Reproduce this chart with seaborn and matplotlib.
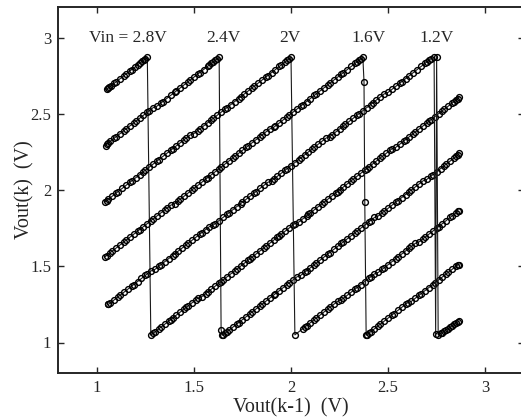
import pandas as pd
import matplotlib
matplotlib.use("Agg")
import matplotlib.pyplot as plt
import seaborn as sns

# return map samples, Vout(k-1) vs Vout(k), one pair of lists per input voltage
x_28 = [1.05, 1.06, 1.065, 1.075, 1.09, 1.10, 1.12, 1.14, 1.15, 1.17, 1.18, 1.195, 1.21, 1.22, 1.235, 1.245, 1.25, 1.26,
        1.278, 1.29, 1.30, 1.32, 1.33, 1.35, 1.37, 1.38, 1.39, 1.41, 1.43, 1.45, 1.46, 1.47, 1.49, 1.51, 1.52,
        1.54, 1.56, 1.57, 1.59, 1.61, 1.63, 1.64, 1.65, 1.67, 1.69, 1.71, 1.72, 1.74, 1.76, 1.78, 1.79, 1.80, 1.82,
        1.84, 1.86, 1.87, 1.89, 1.91, 1.93, 1.94, 1.95, 1.97, 1.99, 2.01, 2.02,
        2.04, 2.06, 2.08, 2.09, 2.10, 2.12, 2.14, 2.16, 2.17, 2.19, 2.21, 2.23, 2.24, 2.25, 2.27, 2.29, 2.31, 2.32,
        2.34, 2.36, 2.38, 2.39, 2.40, 2.42, 2.44, 2.46, 2.47, 2.49, 2.51, 2.52,
        2.54, 2.56, 2.58, 2.59, 2.61, 2.63, 2.64, 2.66, 2.68, 2.70, 2.71, 2.72, 2.74, 2.76, 2.78, 2.79, 2.81, 2.83,
        2.84, 2.85, 2.86, 2.866]
y_28 = [2.66, 2.67, 2.675, 2.685, 2.70, 2.71, 2.73, 2.75, 2.76, 2.78, 2.79, 2.805, 2.82, 2.83, 2.845, 2.855, 2.86, 2.87,
        1.05, 1.06, 1.07, 1.09, 1.10, 1.12, 1.14, 1.15, 1.16, 1.18, 1.20, 1.22, 1.23, 1.24, 1.26, 1.28, 1.29,
        1.30, 1.32, 1.33, 1.35, 1.37, 1.39, 1.40, 1.41, 1.43, 1.45, 1.47, 1.48, 1.50, 1.52, 1.54, 1.55, 1.56, 1.58,
        1.60, 1.62, 1.63, 1.65, 1.67, 1.69, 1.70, 1.71, 1.73, 1.75, 1.77, 1.78,
        1.79, 1.81, 1.83, 1.84, 1.85, 1.87, 1.89, 1.91, 1.92, 1.94, 1.96, 1.98, 1.99, 2.00, 2.02, 2.04, 2.06, 2.07,
        2.09, 2.11, 2.13, 2.14, 2.15, 2.17, 2.19, 2.21, 2.22, 2.24, 2.26, 2.27,
        2.28, 2.30, 2.32, 2.33, 2.35, 2.37, 2.38, 2.40, 2.42, 2.44, 2.45, 2.46, 2.48, 2.50, 2.52, 2.53, 2.55, 2.57,
        2.58, 2.59, 2.60, 2.61]

x_24 = [1.045, 1.05, 1.06, 1.07, 1.09, 1.10, 1.12, 1.14, 1.15, 1.17, 1.19, 1.20, 1.22, 1.24, 1.26, 1.27, 1.29,
        1.31, 1.33, 1.34, 1.36, 1.38, 1.40, 1.41, 1.43, 1.45, 1.47, 1.48, 1.50, 1.52, 1.53, 1.55, 1.57, 1.58, 1.59,
        1.60, 1.61, 1.62, 1.63,
        1.64,
        1.645, 1.65, 1.66, 1.67, 1.68, 1.70, 1.72, 1.73, 1.75, 1.77, 1.79, 1.80, 1.82, 1.84, 1.85, 1.87, 1.89, 1.91,
        1.92, 1.94, 1.96, 1.98, 1.99, 2.01, 2.03,
        2.05, 2.07, 2.08, 2.10, 2.12, 2.13, 2.15, 2.17, 2.19, 2.20, 2.22, 2.24, 2.26, 2.27, 2.29, 2.31, 2.33, 2.34,
        2.36, 2.38, 2.40, 2.41, 2.43,
        2.45, 2.47, 2.48, 2.50, 2.52, 2.54, 2.55, 2.57, 2.59, 2.61, 2.62, 2.64, 2.66, 2.68,
        2.70, 2.72, 2.73, 2.75, 2.77, 2.79, 2.80, 2.82, 2.84, 2.85, 2.86, 2.866]
y_24 = [2.29, 2.30, 2.31, 2.32, 2.34, 2.35, 2.37, 2.39, 2.40, 2.42, 2.44, 2.45, 2.47, 2.49, 2.51, 2.52, 2.54,
        2.55, 2.57, 2.58, 2.60, 2.62, 2.64, 2.65, 2.67, 2.69, 2.71, 2.72, 2.74, 2.76, 2.77, 2.79, 2.81, 2.82, 2.83,
        2.84, 2.85, 2.86, 2.87,
        1.085,
        1.05, 1.05, 1.06, 1.07, 1.08, 1.10, 1.12, 1.13, 1.15, 1.17, 1.19, 1.20, 1.22, 1.24, 1.25, 1.27, 1.29, 1.31,
        1.32, 1.34, 1.36, 1.38, 1.39, 1.41, 1.43,
        1.44, 1.46, 1.47, 1.49, 1.51, 1.52, 1.54, 1.56, 1.58, 1.59, 1.61, 1.63, 1.65, 1.66, 1.68, 1.70, 1.72, 1.73,
        1.75, 1.77, 1.79, 1.80, 1.82,
        1.83, 1.85, 1.86, 1.88, 1.90, 1.92, 1.93, 1.95, 1.97, 1.99, 2.00, 2.02, 2.04, 2.06,
        2.07, 2.09, 2.10, 2.12, 2.14, 2.16, 2.17, 2.19, 2.21, 2.22, 2.23, 2.24]

x_20 = [1.04, 1.05, 1.06, 1.08, 1.10, 1.11, 1.13, 1.15, 1.17, 1.18, 1.20, 1.22, 1.24, 1.25, 1.27, 1.29, 1.31, 1.32,
        1.34, 1.36, 1.38, 1.39, 1.41, 1.43, 1.45, 1.46, 1.48,
        1.50, 1.52, 1.53, 1.55, 1.57, 1.59, 1.60, 1.62, 1.64, 1.66, 1.67, 1.69, 1.71, 1.73, 1.74, 1.76, 1.78, 1.80,
        1.81, 1.83, 1.85, 1.87, 1.88, 1.90, 1.92, 1.94, 1.95, 1.97, 1.98, 1.99, 2.00,
        2.02, 2.06, 2.07, 2.08, 2.10, 2.12, 2.13, 2.15, 2.17, 2.19, 2.20, 2.22, 2.24,
        2.26, 2.27, 2.29, 2.31, 2.33, 2.34, 2.36, 2.38, 2.40, 2.41, 2.43,
        2.45, 2.47, 2.48, 2.50, 2.52, 2.54, 2.55, 2.57, 2.59, 2.61, 2.62, 2.64,
        2.66, 2.68, 2.69, 2.71, 2.73, 2.75, 2.76, 2.78, 2.80, 2.82, 2.83, 2.85, 2.86, 2.866]
y_20 = [1.92, 1.93, 1.94, 1.96, 1.98, 1.99, 2.01, 2.03, 2.05, 2.06, 2.08, 2.10, 2.12, 2.13, 2.15, 2.17, 2.19, 2.20,
        2.22, 2.24, 2.26, 2.27, 2.29, 2.31, 2.33, 2.34, 2.36,
        2.37, 2.39, 2.40, 2.42, 2.44, 2.46, 2.47, 2.49, 2.51, 2.53, 2.54, 2.56, 2.58, 2.60, 2.61, 2.63, 2.65, 2.67,
        2.68, 2.70, 2.72, 2.74, 2.75, 2.77, 2.79, 2.81, 2.82, 2.84, 2.85, 2.86, 2.87,
        1.05, 1.09, 1.10, 1.11, 1.13, 1.15, 1.16, 1.18, 1.20, 1.22, 1.23, 1.25, 1.27,
        1.28, 1.29, 1.31, 1.33, 1.35, 1.36, 1.38, 1.40, 1.42, 1.43, 1.45,
        1.46, 1.48, 1.49, 1.51, 1.53, 1.55, 1.56, 1.58, 1.60, 1.62, 1.63, 1.65,
        1.66, 1.68, 1.69, 1.71, 1.73, 1.75, 1.76, 1.78, 1.80, 1.82, 1.83, 1.85, 1.86, 1.86]

x_16 = [1.04, 1.05, 1.07, 1.08, 1.10, 1.12, 1.14, 1.15, 1.17, 1.19, 1.21, 1.22, 1.24, 1.26, 1.28, 1.29, 1.31, 1.33,
        1.35, 1.36, 1.38,
        1.40, 1.42, 1.43, 1.45, 1.47, 1.49, 1.50, 1.52, 1.54, 1.56, 1.57, 1.59, 1.61, 1.63, 1.64, 1.66, 1.68, 1.70,
        1.71, 1.73, 1.75, 1.77, 1.78, 1.80, 1.82, 1.84, 1.85, 1.87, 1.89,
        1.91, 1.92, 1.94, 1.96, 1.98, 1.99, 2.01, 2.03, 2.05, 2.06, 2.08, 2.10, 2.12, 2.13, 2.15, 2.17, 2.19, 2.20,
        2.22, 2.24, 2.26, 2.27, 2.29, 2.31, 2.33, 2.34, 2.35, 2.36, 2.37,
        2.376, 2.38,
        2.387, 2.39, 2.40, 2.41, 2.43, 2.45, 2.46, 2.48, 2.50, 2.52, 2.53, 2.55, 2.57, 2.59, 2.60,
        2.62, 2.64, 2.66, 2.67, 2.69, 2.71, 2.73, 2.74, 2.76, 2.78, 2.80, 2.81, 2.83, 2.85, 2.86, 2.866]
y_16 = [1.56, 1.57, 1.59, 1.60, 1.62, 1.64, 1.66, 1.67, 1.69, 1.71, 1.73, 1.74, 1.76, 1.78, 1.80, 1.81, 1.83, 1.85,
        1.87, 1.88, 1.90,
        1.91, 1.93, 1.94, 1.96, 1.98, 2.00, 2.01, 2.03, 2.05, 2.07, 2.08, 2.10, 2.12, 2.14, 2.15, 2.17, 2.19, 2.21,
        2.22, 2.24, 2.26, 2.28, 2.29, 2.31, 2.33, 2.35, 2.36, 2.38, 2.40,
        2.41, 2.42, 2.44, 2.46, 2.48, 2.49, 2.51, 2.53, 2.55, 2.56, 2.58, 2.60, 2.62, 2.63, 2.65, 2.67, 2.69, 2.70,
        2.72, 2.74, 2.76, 2.77, 2.79, 2.81, 2.83, 2.84, 2.85, 2.86, 2.87,
        2.71, 1.92,
        1.05, 1.05, 1.06, 1.07, 1.09, 1.11, 1.12, 1.14, 1.16, 1.18, 1.19, 1.21, 1.23, 1.25, 1.26,
        1.27, 1.29, 1.31, 1.32, 1.34, 1.36, 1.38, 1.39, 1.41, 1.43, 1.45, 1.46, 1.48, 1.50, 1.51, 1.51]

x_12 = [1.056, 1.06, 1.07, 1.09, 1.11, 1.12, 1.14, 1.16, 1.18, 1.19, 1.21, 1.23, 1.25, 1.26, 1.28,
        1.30, 1.32, 1.33, 1.35, 1.37, 1.39, 1.40, 1.42, 1.44, 1.46, 1.47, 1.49, 1.51, 1.53, 1.54, 1.56, 1.58,
        1.60, 1.61, 1.63, 1.65, 1.67, 1.68, 1.70, 1.72, 1.74, 1.75, 1.77, 1.79, 1.81, 1.82, 1.84, 1.86, 1.88,
        1.90, 1.91, 1.93, 1.95, 1.97, 1.98, 2.00, 2.02, 2.04, 2.05, 2.07, 2.09, 2.11, 2.12, 2.14, 2.16, 2.18,
        2.20, 2.21, 2.23, 2.25, 2.27, 2.28, 2.30, 2.32, 2.34, 2.35, 2.37, 2.39, 2.41, 2.42, 2.44, 2.46, 2.48,
        2.50, 2.52, 2.54, 2.56, 2.57, 2.59, 2.61, 2.63, 2.65, 2.67, 2.69, 2.70, 2.71, 2.72, 2.737,
        2.745, 2.75,
        2.758, 2.77, 2.78, 2.79, 2.80, 2.81, 2.82, 2.83, 2.84, 2.85, 2.86, 2.866]
y_12 = [1.25, 1.25, 1.26, 1.28, 1.30, 1.31, 1.33, 1.35, 1.37, 1.38, 1.40, 1.42, 1.44, 1.45, 1.47,
        1.48, 1.50, 1.51, 1.53, 1.55, 1.57, 1.58, 1.60, 1.62, 1.64, 1.65, 1.67, 1.69, 1.71, 1.72, 1.74, 1.76,
        1.77, 1.78, 1.80, 1.82, 1.84, 1.85, 1.87, 1.89, 1.91, 1.92, 1.94, 1.96, 1.98, 1.99, 2.01, 2.03, 2.05,
        2.06, 2.07, 2.09, 2.11, 2.13, 2.14, 2.16, 2.18, 2.20, 2.21, 2.23, 2.25, 2.27, 2.28, 2.30, 2.32, 2.34,
        2.35, 2.36, 2.38, 2.40, 2.42, 2.43, 2.45, 2.47, 2.49, 2.50, 2.52, 2.54, 2.56, 2.57, 2.59, 2.61, 2.63,
        2.64, 2.66, 2.68, 2.70, 2.71, 2.73, 2.75, 2.77, 2.79, 2.81, 2.83, 2.84, 2.85, 2.86, 2.87,
        1.055, 2.875,
        1.05, 1.06, 1.065, 1.075, 1.085, 1.09, 1.10, 1.11, 1.12, 1.13, 1.135, 1.14]

vin_names = ["2.8V", "2.4V", "2V", "1.6V", "1.2V"]
vin_labels = ["Vin = 2.8V", "2.4V", "2V", "1.6V", "1.2V"]
ticks = [1, 1.5, 2, 2.5, 3]
tick_labels = ["1", "1.5", "2", "2.5", "3"]

# where the Vin labels sit along the top (x in data units)
label_x = [1.16, 1.65, 1.995, 2.40, 2.75]

frames = []
for name, xs, ys in zip(vin_names, [x_28, x_24, x_20, x_16, x_12], [y_28, y_24, y_20, y_16, y_12]):
    frames.append(pd.DataFrame({"vin": name, "x": xs, "y": ys}))
df = pd.concat(frames, ignore_index=True)

sns.set_style("ticks")
plt.rcParams["font.family"] = ["Liberation Serif", "DejaVu Serif"]

fig = plt.figure(figsize=(5.21, 4.18), dpi=100)
ax = fig.add_axes([58 / 521, 45 / 418, 466 / 521, 366 / 418])

for name in vin_names:
    sub = df[df["vin"] == name]
    sns.lineplot(data=sub, x="x", y="y", ax=ax, estimator=None, sort=False,
                 color="0.1", linewidth=0.8, marker="o", markersize=4.2,
                 markerfacecolor="none", markeredgecolor="black", markeredgewidth=1.0)

for lab, lx in zip(vin_labels, label_x):
    ax.text(lx, 3.0, lab, ha="center", va="center", fontsize=12.5)

ax.set_xlim(0.8, 3.2)
ax.set_ylim(0.8, 3.2)
ax.set_xticks(ticks)
ax.set_xticklabels(tick_labels)
ax.set_yticks(ticks)
ax.set_yticklabels(tick_labels)
ax.tick_params(direction="in", top=True, right=True, length=4, width=1, labelsize=12, pad=5)
for sp in ax.spines.values():
    sp.set_linewidth(1.4)
    sp.set_visible(True)

ax.set_xlabel("Vout(k-1)  (V)", fontsize=14.5, labelpad=2)
ax.set_ylabel("Vout(k)  (V)", fontsize=14.5, labelpad=-3)

fig.savefig("out.png", dpi=100)
plt.close(fig)
